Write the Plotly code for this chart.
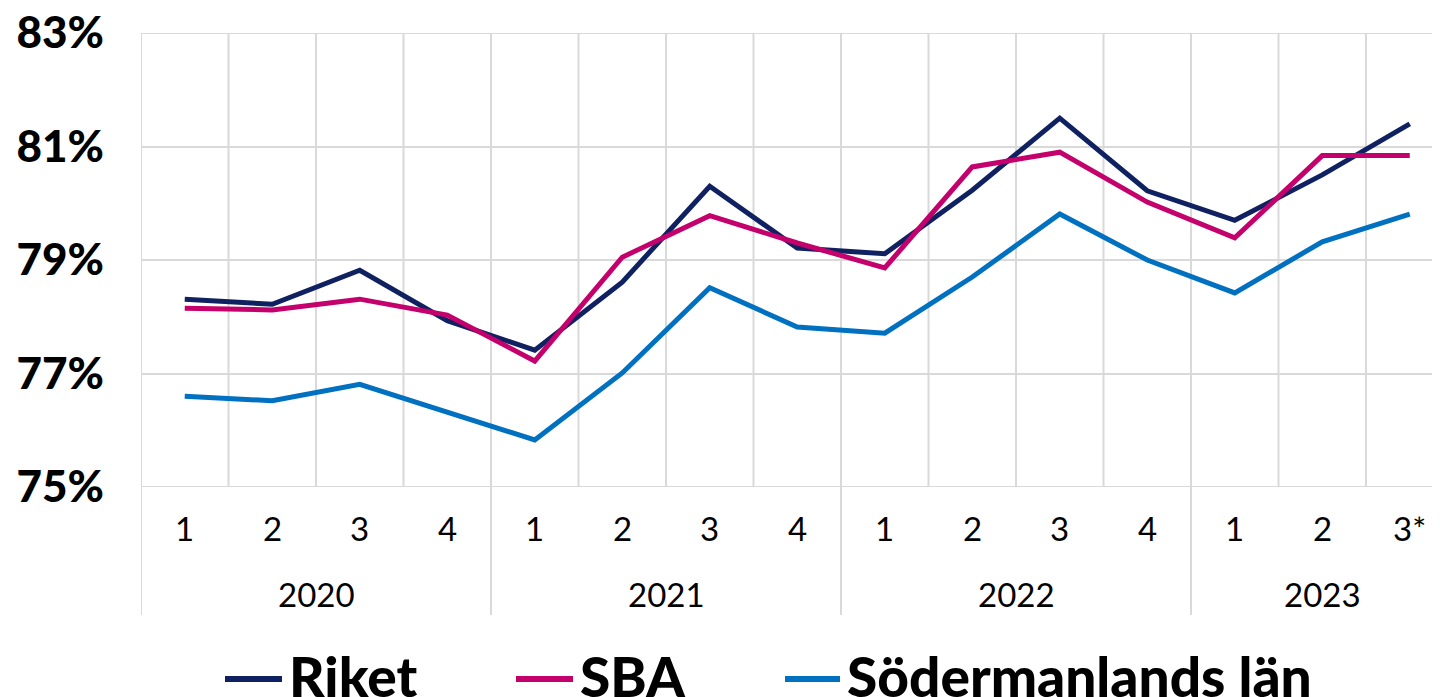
import plotly.graph_objects as go

quarters = ["1", "2", "3", "4", "1", "2", "3", "4", "1", "2", "3", "4", "1", "2", "3*"]
years = ["2020", "2021", "2022", "2023"]
riket = [78.31, 78.22, 78.82, 77.93, 77.41, 78.61, 80.30, 79.21, 79.11, 80.23, 81.50, 80.22, 79.70, 80.50, 81.40]
sba = [78.15, 78.12, 78.31, 78.03, 77.22, 79.05, 79.78, 79.30, 78.86, 80.64, 80.90, 80.02, 79.39, 80.84, 80.84]
sodermanland = [76.60, 76.52, 76.81, 76.32, 75.83, 77.01, 78.51, 77.82, 77.71, 78.70, 79.81, 79.00, 78.42, 79.32, 79.81]
series_names = ["Riket", "SBA", "Södermanlands län"]
colors = ["#0f2161", "#c3006b", "#0070c0"]
y_min, y_max = 75, 83

xs = list(range(len(quarters)))
fig = go.Figure()
for name, vals, col in zip(series_names, [riket, sba, sodermanland], colors):
    fig.add_trace(go.Scatter(x=xs, y=vals, mode="lines", name=name,
                             line=dict(color=col, width=5), showlegend=False))

# page offset (browser body margin)
OFF = 8
L, T, B_PAGE = 141, 33, 487
FIG_W, FIG_H = 1440, 697
W = FIG_W - (L - OFF)          # plot width in px (extends past the window edge)
H = B_PAGE - T                  # plot height in px

def py(page_y):
    return (B_PAGE - page_y) / H

def px(page_x):
    return (page_x - L) / W

grid = "#d9d9d9"
shapes = []
for i in range(len(quarters) + 1):
    b = i - 0.5
    ext = (i % 4 == 0)
    shapes.append(dict(type="line", xref="x", yref="paper", x0=b, x1=b,
                       y0=py(615) if ext else 0, y1=1,
                       line=dict(color=grid, width=2), layer="below"))
# top and bottom horizontal gridlines
for yv in (y_min, y_max):
    shapes.append(dict(type="line", xref="paper", yref="y", x0=0, x1=1, y0=yv, y1=yv,
                       line=dict(color=grid, width=2), layer="below"))

annotations = []
for i, q in enumerate(quarters):
    annotations.append(dict(x=i, y=py(528), xref="x", yref="paper", text=q,
                            showarrow=False, yanchor="middle", xanchor="center",
                            font=dict(family="Lato", size=33, color="#000000")))
for k, yr in enumerate(years):
    idx = list(range(4 * k, min(4 * k + 4, len(quarters))))
    cx = (idx[0] + idx[-1]) / 2
    annotations.append(dict(x=cx, y=py(594), xref="x", yref="paper", text=yr,
                            showarrow=False, yanchor="middle", xanchor="center",
                            font=dict(family="Lato", size=33, color="#000000")))

# custom legend
leg_items = [(225, 282, 287), (516, 573, 578), (785, 840, 845)]
for (l0, l1, t0), name, col in zip(leg_items, series_names, colors):
    shapes.append(dict(type="line", xref="paper", yref="paper",
                       x0=px(l0), x1=px(l1), y0=py(679), y1=py(679),
                       line=dict(color=col, width=6)))
    annotations.append(dict(x=px(t0), y=py(676), xref="paper", yref="paper",
                            text=name, showarrow=False, xanchor="left", yanchor="middle",
                            font=dict(family="Lato", size=55, color="#000000", weight=900)))

fig.update_layout(
    width=FIG_W, height=FIG_H,
    margin=dict(l=L - OFF, r=0, t=T - OFF, b=FIG_H - (B_PAGE - OFF), autoexpand=False),
    plot_bgcolor="white", paper_bgcolor="white",
    shapes=shapes, annotations=annotations,
    xaxis=dict(range=[-0.5, -0.5 + W / 87.5], showgrid=False, zeroline=False,
               showticklabels=False, fixedrange=True),
    yaxis=dict(range=[y_min, y_max], dtick=2, tick0=75, ticksuffix="%",
               gridcolor=grid, gridwidth=2, zeroline=False, showline=False,
               ticklabelstandoff=36, ticklabeloverflow="allow",
               tickfont=dict(family="Lato", size=44, color="#000000", weight=900)),
)
fig.write_html("out.html")
